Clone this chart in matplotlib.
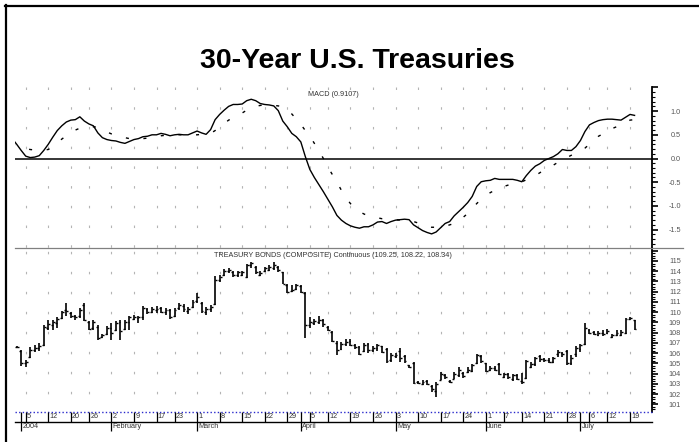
import matplotlib
matplotlib.use('Agg')
import matplotlib.pyplot as plt
import pandas as pd
from matplotlib.lines import Line2D
from matplotlib.ticker import FixedLocator, MultipleLocator

plt.rcParams['font.family'] = ['Liberation Sans', 'DejaVu Sans']
plt.rcParams['lines.scale_dashes'] = False

W, H = 699, 442

# ---------------- data ----------------
title = "30-Year U.S. Treasuries"
macd_label = "MACD (0.9107)"
price_label = "TREASURY BONDS (COMPOSITE) Continuous (109.25, 108.22, 108.34)"

holidays = ['2004-01-01', '2004-01-19', '2004-02-16', '2004-04-09',
            '2004-05-31', '2004-06-11', '2004-07-05']
first_day, last_day = '2003-12-30', '2004-07-20'
price_first_day = '2003-12-31'
axis_first_week = '2004-01-05'

macd = [0.42, 0.30, 0.17, 0.05, 0.02, 0.03, 0.06, 0.17, 0.30, 0.45,
        0.59, 0.69, 0.77, 0.81, 0.82, 0.88, 0.79, 0.73, 0.69, 0.54,
        0.44, 0.40, 0.38, 0.37, 0.34, 0.32, 0.36, 0.40, 0.42, 0.46,
        0.47, 0.50, 0.50, 0.53, 0.51, 0.48, 0.50, 0.51, 0.50, 0.50,
        0.54, 0.58, 0.54, 0.51, 0.61, 0.82, 0.93, 1.02, 1.10, 1.14,
        1.14, 1.15, 1.22, 1.25, 1.22, 1.16, 1.14, 1.13, 1.11, 1.01,
        0.79, 0.67, 0.53, 0.46, 0.35, 0.04, -0.23, -0.40, -0.55, -0.70,
        -0.86, -1.02, -1.20, -1.30, -1.37, -1.42, -1.45, -1.47, -1.44, -1.44,
        -1.40, -1.34, -1.33, -1.37, -1.33, -1.30, -1.29, -1.28, -1.29, -1.40,
        -1.46, -1.52, -1.56, -1.59, -1.55, -1.46, -1.37, -1.33, -1.21, -1.12,
        -1.03, -0.93, -0.80, -0.59, -0.49, -0.47, -0.46, -0.42, -0.44, -0.44,
        -0.44, -0.44, -0.46, -0.49, -0.36, -0.25, -0.16, -0.11, -0.04, 0.00,
        0.04, 0.10, 0.19, 0.17, 0.17, 0.25, 0.38, 0.57, 0.71, 0.76,
        0.80, 0.82, 0.83, 0.83, 0.82, 0.81, 0.87, 0.93, 0.91]

signal = [0.30, 0.27, 0.24, 0.21, 0.19, 0.18, 0.18, 0.18, 0.19, 0.25,
          0.33, 0.41, 0.48, 0.54, 0.60, 0.64, 0.66, 0.67, 0.67, 0.66,
          0.61, 0.56, 0.52, 0.50, 0.47, 0.44, 0.42, 0.41, 0.41, 0.42,
          0.43, 0.45, 0.46, 0.48, 0.49, 0.50, 0.50, 0.50, 0.50, 0.50,
          0.50, 0.50, 0.51, 0.51, 0.53, 0.59, 0.67, 0.74, 0.81, 0.86,
          0.92, 0.96, 1.02, 1.06, 1.10, 1.12, 1.13, 1.13, 1.12, 1.11,
          1.09, 1.02, 0.94, 0.83, 0.72, 0.59, 0.47, 0.32, 0.17, 0.00,
          -0.18, -0.34, -0.50, -0.67, -0.83, -0.95, -1.05, -1.12, -1.17, -1.21,
          -1.23, -1.25, -1.27, -1.28, -1.29, -1.29, -1.30, -1.31, -1.31, -1.33,
          -1.36, -1.40, -1.43, -1.45, -1.45, -1.45, -1.43, -1.40, -1.37, -1.32,
          -1.24, -1.16, -1.06, -0.95, -0.86, -0.79, -0.72, -0.67, -0.63, -0.59,
          -0.56, -0.53, -0.51, -0.49, -0.45, -0.40, -0.36, -0.30, -0.24, -0.19,
          -0.14, -0.08, -0.03, 0.02, 0.07, 0.13, 0.18, 0.22, 0.30, 0.39,
          0.47, 0.52, 0.58, 0.63, 0.67, 0.72, 0.76, 0.81, 0.82]

opens = [106.6, 106.2, 105.0, 105.6, 106.3, 106.5, 106.8, 108.5, 108.7, 108.9,
         109.4, 110.2, 109.9, 109.6, 109.6, 110.7, 109.0, 108.5, 108.6, 107.6,
         107.9, 108.5, 108.3, 109.0, 108.4, 109.0, 109.3, 109.4, 109.5, 110.3,
         110.0, 110.2, 110.4, 110.0, 110.2, 109.6, 110.4, 110.6, 110.1, 110.5,
         111.1, 110.9, 110.0, 110.3, 110.8, 113.1, 113.6, 114.0, 113.9, 113.6,
         113.6, 113.4, 114.6, 114.4, 113.6, 114.0, 114.1, 114.3, 114.4, 113.9,
         112.7, 112.1, 112.3, 112.6, 111.9, 108.7, 108.9, 109.0, 109.2, 108.6,
         108.1, 107.0, 106.4, 106.9, 107.2, 106.8, 106.6, 106.2, 106.9, 106.3,
         106.5, 106.7, 106.4, 105.3, 105.7, 106.2, 105.7, 104.8, 105.0, 103.2,
         103.0, 103.3, 102.8, 102.3, 103.4, 103.9, 103.3, 103.5, 103.9, 104.1,
         104.2, 104.3, 105.0, 105.7, 105.0, 104.4, 104.5, 104.9, 103.7, 104.0,
         103.5, 103.9, 103.3, 103.6, 104.6, 104.9, 105.7, 105.4, 105.3, 105.1,
         105.9, 106.0, 106.2, 105.0, 105.9, 106.4, 106.9, 108.3, 108.1, 107.8,
         108.0, 108.0, 107.6, 107.8, 107.8, 108.0, 109.3, 109.2]

highs = [106.7, 106.3, 105.3, 106.6, 106.8, 107.0, 108.75, 109.2, 109.2, 109.5,
         110.15, 110.9, 110.05, 109.7, 110.4, 110.9, 109.1, 109.2, 108.75, 107.9,
         108.65, 108.9, 109.1, 109.2, 109.2, 109.6, 109.7, 109.6, 110.6, 110.45,
         110.5, 110.6, 110.5, 110.4, 110.3, 110.4, 110.85, 110.8, 110.5, 111.2,
         111.85, 111.0, 110.5, 110.7, 113.5, 113.6, 114.2, 114.3, 114.05, 114.05,
         114.05, 114.7, 114.9, 114.5, 114.0, 114.45, 114.6, 114.9, 114.5, 113.95,
         112.8, 112.65, 112.8, 112.65, 112.0, 109.5, 109.3, 109.6, 109.3, 108.65,
         108.2, 107.2, 107.1, 107.35, 107.35, 106.9, 106.7, 107.0, 107.0, 106.7,
         106.9, 106.7, 106.55, 105.98, 106.05, 106.55, 105.8, 104.8, 105.17, 103.3,
         103.38, 103.38, 102.9, 103.2, 104.2, 104.0, 103.38, 104.2, 104.6, 104.2,
         104.6, 104.94, 105.9, 105.8, 105.07, 104.75, 104.7, 105.0, 104.1, 104.1,
         104.0, 104.0, 104.1, 105.33, 105.17, 105.6, 105.8, 105.5, 105.5, 105.6,
         106.3, 106.15, 106.3, 105.8, 106.7, 106.9, 108.9, 108.4, 108.2, 108.2,
         108.26, 108.4, 107.9, 108.3, 108.26, 109.4, 109.5, 109.25]

lows = [106.5, 104.7, 104.6, 105.5, 106.1, 106.2, 106.7, 108.25, 108.3, 108.5,
        109.3, 109.6, 109.4, 109.25, 109.4, 109.1, 108.3, 108.3, 107.3, 107.45,
        107.8, 107.3, 108.2, 107.3, 108.3, 108.3, 109.2, 108.9, 109.25, 109.8,
        109.9, 109.95, 109.9, 109.7, 109.3, 109.5, 110.2, 110.05, 109.8, 110.4,
        110.9, 109.95, 109.7, 110.05, 110.7, 112.95, 113.5, 113.8, 113.45, 113.45,
        113.5, 113.3, 114.3, 113.7, 113.5, 113.9, 114.0, 114.1, 113.95, 112.75,
        111.9, 112.0, 112.15, 111.85, 107.45, 108.5, 108.75, 108.85, 108.6, 108.2,
        107.1, 105.8, 106.3, 106.7, 106.7, 106.45, 105.8, 106.15, 106.0, 106.15,
        106.25, 106.0, 105.05, 105.17, 105.5, 105.17, 105.05, 104.5, 102.98, 102.98,
        102.9, 102.9, 102.24, 101.75, 103.38, 103.45, 103.05, 103.45, 103.7, 103.6,
        104.1, 104.2, 104.94, 105.05, 104.2, 104.3, 104.3, 103.9, 103.6, 103.5,
        103.3, 103.38, 103.0, 103.45, 104.5, 104.75, 105.17, 105.17, 105.0, 105.0,
        105.65, 105.6, 104.85, 104.85, 105.65, 106.15, 106.8, 107.9, 107.8, 107.7,
        107.7, 107.9, 107.45, 107.7, 107.7, 107.9, 109.2, 108.22]

closes = [106.6, 105.0, 105.1, 106.3, 106.5, 106.7, 108.6, 108.8, 109.0, 109.3,
          110.0, 110.1, 109.6, 109.5, 110.2, 109.2, 108.4, 109.0, 107.5, 107.8,
          108.5, 108.0, 108.9, 108.2, 109.0, 109.5, 109.5, 109.5, 110.4, 110.0,
          110.3, 110.3, 110.0, 110.2, 109.5, 110.2, 110.7, 110.3, 110.3, 111.0,
          111.5, 110.1, 110.3, 110.5, 113.1, 113.4, 114.0, 114.1, 113.6, 113.9,
          113.9, 114.6, 114.8, 113.9, 113.8, 114.3, 114.4, 114.6, 114.1, 112.8,
          112.0, 112.2, 112.7, 112.0, 108.7, 109.0, 109.1, 109.2, 108.8, 108.3,
          107.2, 106.3, 106.9, 107.1, 106.8, 106.6, 105.9, 106.8, 106.3, 106.5,
          106.8, 106.1, 105.2, 105.8, 105.8, 105.5, 105.2, 104.6, 103.1, 103.1,
          103.2, 103.0, 102.5, 103.0, 104.0, 103.7, 103.2, 104.0, 104.4, 103.8,
          104.4, 104.8, 105.8, 105.2, 104.3, 104.5, 104.4, 104.0, 104.0, 103.7,
          103.9, 103.5, 103.2, 105.2, 104.9, 105.5, 105.4, 105.3, 105.1, 105.5,
          106.1, 105.9, 105.0, 105.5, 106.5, 106.8, 108.5, 108.0, 107.9, 108.0,
          107.9, 108.2, 107.8, 108.0, 108.1, 109.3, 109.4, 108.34]

macd_ticks = [-1.5, -1.0, -0.5, 0.0, 0.5, 1.0, 1.5]
macd_ticklabels = ['-1.5', '-1.0', '-0.5', '0.0', '0.5', '1.0', '']
price_ticks = list(range(101, 117))
price_ticklabels = [str(v) for v in range(101, 116)] + ['']
month_names = {1: '2004', 2: 'February', 3: 'March', 4: 'April', 5: 'May',
               6: 'June', 7: 'July'}

# ---------------- derived calendar ----------------
days = [d for d in pd.bdate_range(first_day, last_day)
        if d.strftime('%Y-%m-%d') not in holidays]
pos = {d: i for i, d in enumerate(days)}
x_all = list(range(len(days)))
x_price = [pos[d] for d in days if d >= pd.Timestamp(price_first_day)]

week_starts = []
for i, d in enumerate(days):
    if d < pd.Timestamp(axis_first_week):
        continue
    if i == 0 or d.isocalendar()[1] != days[i - 1].isocalendar()[1]:
        week_starts.append(i)
month_starts = []
for i, d in enumerate(days):
    if i > 0 and d.month != days[i - 1].month:
        month_starts.append(i)

# ---------------- layout (pixels) ----------------
X0, X1 = 15.0, 651.7
Y_MT, Y_SEP, Y_PB = 86.7, 248.3, 411.7
jan2 = pos[pd.Timestamp('2004-01-02')]
PXD = 4.51
xlim = (jan2 + (X0 - 21.2) / PXD, jan2 + (X1 - 21.2) / PXD)

def fx(x):
    return x / W

def fy(y):
    return 1 - y / H

fig = plt.figure(figsize=(W / 100, H / 100), dpi=100)
fig.patch.set_facecolor('white')

ax_m = fig.add_axes([fx(X0), fy(Y_SEP), fx(X1) - fx(X0), fy(Y_MT) - fy(Y_SEP)])
ax_p = fig.add_axes([fx(X0), fy(Y_PB), fx(X1) - fx(X0), fy(Y_SEP) - fy(Y_PB)])

grid_color = '#b4b4b4'
lab_color = '#555555'

def style_axis(ax, ticks, labels, minor):
    for s in ['top', 'left', 'bottom']:
        ax.spines[s].set_visible(False)
    ax.spines['right'].set_linewidth(1.3)
    ax.yaxis.tick_right()
    ax.set_xticks([])
    ax.yaxis.set_major_locator(FixedLocator(ticks))
    ax.set_yticklabels(labels)
    ax.yaxis.set_minor_locator(MultipleLocator(minor))
    ax.tick_params(axis='y', which='major', length=4.0, width=1.2,
                   pad=17.0, labelsize=5.2, labelcolor=lab_color)
    ax.tick_params(axis='y', which='minor', length=2.0, width=0.8)
    for t in ax.get_yticklabels():
        t.set_horizontalalignment('right')
    ax.set_xlim(*xlim)

# ---- MACD panel ----
ax_m.set_ylim(-1.894, 1.515)
style_axis(ax_m, macd_ticks, macd_ticklabels, 0.1)
for w in week_starts:
    ax_m.plot([w, w], [1.515, -1.894], color=grid_color, lw=0.8,
              ls=(0, (1.8, 12.4)), zorder=0)
ax_m.axhline(0, color='black', lw=1.1, zorder=1)
ax_m.plot(x_all, macd, color='black', lw=1.0, zorder=3)
ax_m.plot(x_all, signal, color='black', lw=1.0, ls=(0, (2.2, 10.5)), zorder=3)
ax_m.text(0.5, 1 - (94 - Y_MT) / (Y_SEP - Y_MT), macd_label,
          transform=ax_m.transAxes, ha='center', va='center',
          fontsize=5.2, color='#333333')

# ---- price panel ----
ax_p.set_ylim(100.28, 116.24)
style_axis(ax_p, price_ticks, price_ticklabels, 0.25)
for w in week_starts:
    ax_p.plot([w, w], [116.24, 100.28], color=grid_color, lw=0.8,
              ls=(12.0, (1.8, 12.6)), zorder=0)
bw = 0.42
ax_p.vlines(x_price, lows, highs, color='black', lw=1.2, zorder=3)
ax_p.hlines(opens, [x - bw for x in x_price], x_price, color='black', lw=1.0, zorder=3)
ax_p.hlines(closes, x_price, [x + bw for x in x_price], color='black', lw=1.0, zorder=3)
ax_p.text(0.5, 1 - (255.7 - Y_SEP) / (Y_PB - Y_SEP), price_label,
          transform=ax_p.transAxes, ha='center', va='center',
          fontsize=5.2, color='#333333')

# ---- date axis ----
Y_DB = 432.0
ax_d = fig.add_axes([fx(X0), fy(Y_DB), fx(X1) - fx(X0), fy(Y_PB) - fy(Y_DB)])
ax_d.set_xlim(*xlim)
ax_d.set_ylim(Y_DB - Y_PB, 0)
ax_d.axis('off')
row1 = 421.5 - Y_PB
row2 = 431.0 - Y_PB
ax_d.plot(list(xlim), [0.3, 0.3], color='#2a2acc', lw=1.0, ls=(0, (1.0, 1.6)),
          clip_on=False)
ax_d.plot(list(xlim), [row1, row1], color='black', lw=1.0, clip_on=False)
day_lines = sorted(set(week_starts) | set(month_starts))
ax_d.vlines(day_lines, 0, row1, color='black', lw=0.9)
for w in week_starts:
    ax_d.text(w + 0.3, row1 / 2 + 0.2, str(days[w].day), ha='left', va='center',
              fontsize=5.2, color='#333333')
ax_d.vlines(month_starts, row1, row2, color='black', lw=0.9)
for m in month_starts:
    ax_d.text(m + 0.3, (row1 + row2) / 2 + 0.2, month_names[days[m].month],
              ha='left', va='center', fontsize=5.2, color='#333333')

# ---- figure decorations ----
fig.add_artist(Line2D([fx(X0), fx(683)], [fy(Y_SEP), fy(Y_SEP)],
                      transform=fig.transFigure, color='#808080', lw=0.9))
fig.add_artist(Line2D([fx(5), fx(699)], [fy(6), fy(6)],
                      transform=fig.transFigure, color='black', lw=1.6))
fig.add_artist(Line2D([fx(6), fx(6)], [fy(5), fy(442)],
                      transform=fig.transFigure, color='black', lw=1.6))
fig.text(fx(357), fy(61), title, ha='center', va='center', fontsize=20.5,
         fontweight='bold', color='black')

fig.savefig('out.png', dpi=100)
